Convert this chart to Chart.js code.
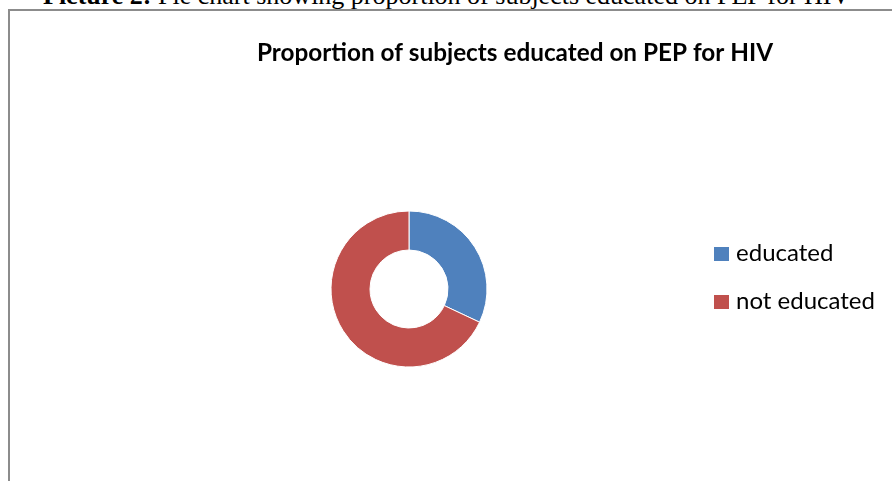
<!DOCTYPE html>
<html>
<head>
<meta charset="utf-8">
<script src="https://cdn.jsdelivr.net/npm/chart.js@4.4.1/dist/chart.umd.min.js"></script>
<style>
  html, body { margin: 0; padding: 0; background: #fff; overflow: hidden; }
  #page { position: relative; width: 892px; height: 481px; overflow: hidden; }
  #caption {
    position: absolute; left: 43px; top: -17px; white-space: nowrap;
    font-family: "Liberation Serif", "Times New Roman", serif;
    font-size: 26px; line-height: 26px; color: #000;
  }
  #frame {
    position: absolute; left: 8px; top: 9px; width: 1000px; height: 1000px;
    border: 2px solid #8c8c8c;
  }
  canvas { position: absolute; left: 0; top: 0; }
</style>
</head>
<body>
<div id="page">
  <div id="caption"><b>Picture 2:</b> Pie chart showing proportion of subjects educated on PEP for HIV</div>
  <div id="frame"></div>
  <canvas id="chart" width="892" height="481"></canvas>
</div>
<script>
// Chart data
const labels = ['educated', 'not educated'];
const values = [32, 68];
const colors = ['#4F81BD', '#C0504D'];
const titleText = 'Proportion of subjects educated on PEP for HIV';

// Scale a font so the text takes a given width (Calibri is not installed)
function fitFont(ctx, text, weight, family, width) {
  ctx.font = `${weight} 20px ${family}`;
  const size = 20 * width / ctx.measureText(text).width;
  return `${weight} ${size.toFixed(2)}px ${family}`;
}

// Title and legend drawn the way the office chart lays them out
const officeLayout = {
  id: 'officeLayout',
  afterDraw(chart) {
    const ctx = chart.ctx;
    ctx.save();
    ctx.fillStyle = '#000';
    ctx.textBaseline = 'alphabetic';

    // title
    ctx.font = fitFont(ctx, titleText, 'bold', 'Lato', 516);
    ctx.textAlign = 'center';
    ctx.fillText(titleText, 515, 61);

    // legend
    const ds = chart.data.datasets[0];
    ctx.textAlign = 'left';
    ctx.font = fitFont(ctx, chart.data.labels[1], 'normal', 'Lato', 139);
    chart.data.labels.forEach((label, i) => {
      const y = 254 + i * 48;
      ctx.fillStyle = ds.backgroundColor[i];
      ctx.fillRect(714, y - 7, 15, 14);
      ctx.fillStyle = '#000';
      ctx.fillText(label, 736, y + 7);
    });
    ctx.restore();
  }
};

new Chart(document.getElementById('chart'), {
  type: 'doughnut',
  data: {
    labels: labels,
    datasets: [{
      data: values,
      backgroundColor: colors,
      borderColor: '#ffffff',
      borderWidth: 1
    }]
  },
  options: {
    responsive: false,
    devicePixelRatio: 1,
    animation: false,
    radius: 78,
    cutout: '50%',
    layout: { padding: { left: 300, right: 374, top: 200, bottom: 103 } },
    plugins: {
      legend: { display: false },
      title: { display: false },
      tooltip: { enabled: false }
    }
  },
  plugins: [officeLayout]
});
</script>
</body>
</html>
